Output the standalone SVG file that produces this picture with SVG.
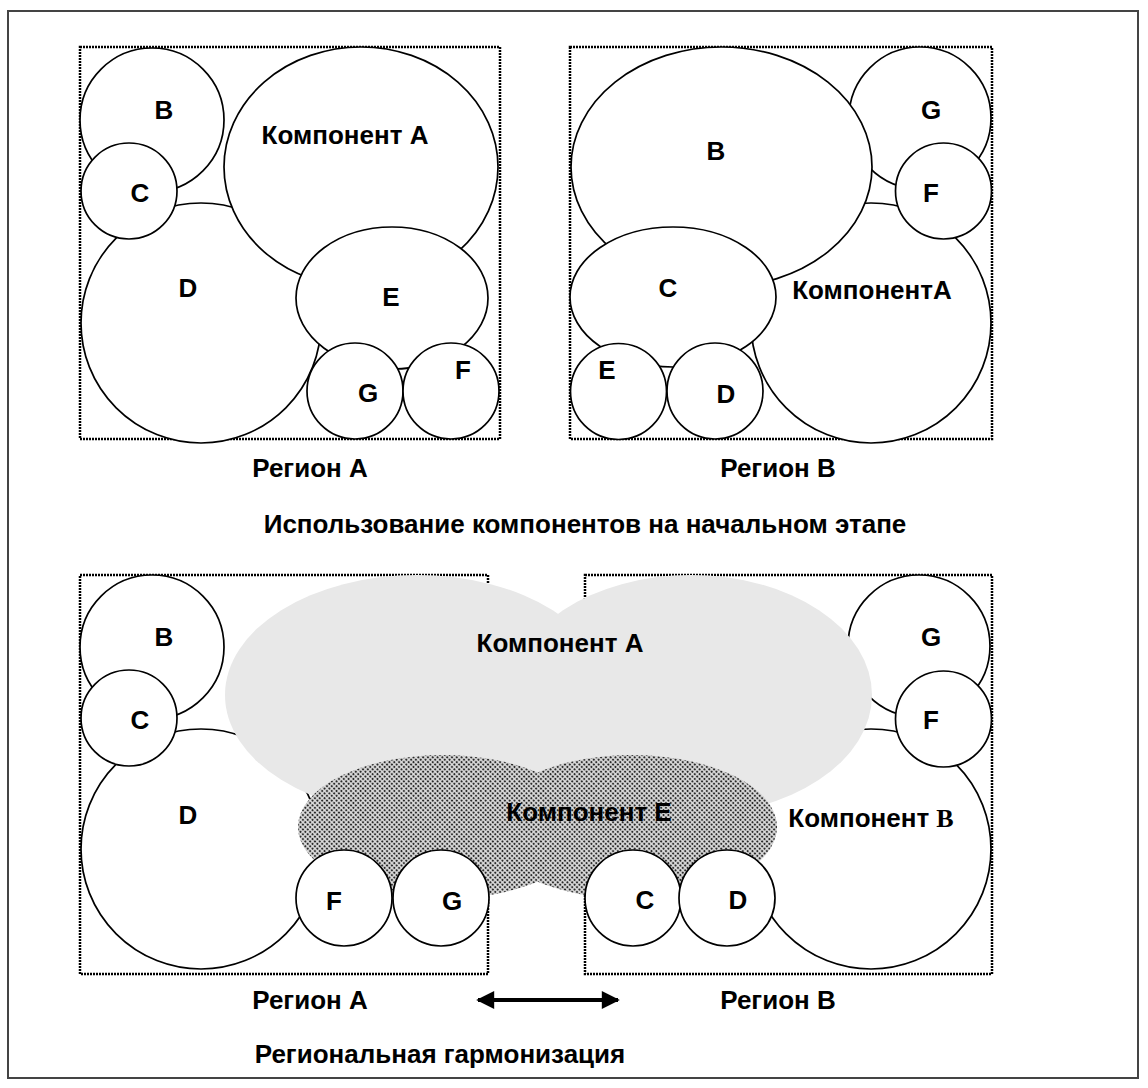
<svg xmlns="http://www.w3.org/2000/svg" width="1148" height="1088" viewBox="0 0 1148 1088">
<style>
.c{fill:#fff;stroke:#000;stroke-width:1.7}
.reg{fill:none;stroke:#000;stroke-width:2.5;stroke-dasharray:2 1}
.t{font-family:"Liberation Sans",Arial,sans-serif;font-weight:bold;font-size:26px;text-anchor:middle;fill:#000}
.gray{fill:#e8e8e8}
.hatch{fill:url(#dots)}
</style>
<defs>
<pattern id="dots" patternUnits="userSpaceOnUse" width="3.4" height="3.4" patternTransform="rotate(45)">
<rect width="3.4" height="3.4" fill="#dcdcdc"/>
<circle cx="1.7" cy="1.7" r="1.15" fill="#2a2a2a"/>
</pattern>
<marker id="ah" viewBox="0 0 10 10" refX="9" refY="5" markerWidth="5.5" markerHeight="4.5" orient="auto-start-reverse" markerUnits="strokeWidth">
<path d="M0,0 L10,5 L0,10 z" fill="#000"/>
</marker>
</defs>
<rect x="8" y="11" width="1130" height="1067" fill="#fff" stroke="#444" stroke-width="2"/>

<!-- Top-left: Region A -->
<g id="top-regionA">
<rect class="reg" x="80" y="47" width="420" height="392"/>
<g id="tA-B"><circle class="c" cx="152" cy="120" r="72"/></g>
<g id="tA-D"><circle class="c" cx="201" cy="323" r="120"/></g>
<g id="tA-C"><circle class="c" cx="129" cy="191" r="48"/></g>
<g id="tA-A"><ellipse class="c" cx="361" cy="167" rx="137" ry="120"/></g>
<g id="tA-E"><ellipse class="c" cx="392" cy="298" rx="96" ry="71"/></g>
<g id="tA-G"><circle class="c" cx="355" cy="391" r="48"/></g>
<g id="tA-F"><circle class="c" cx="451" cy="391" r="48"/></g>
<text class="t" x="164" y="119">B</text>
<text class="t" x="345" y="144">Компонент A</text>
<text class="t" x="140" y="202">C</text>
<text class="t" x="188" y="297">D</text>
<text class="t" x="391" y="306">E</text>
<text class="t" x="368" y="402">G</text>
<text class="t" x="463" y="379">F</text>
</g>

<!-- Top-right: Region B -->
<g id="top-regionB">
<rect class="reg" x="570" y="47" width="422" height="392"/>
<g id="tB-G"><circle class="c" cx="920" cy="118" r="71"/></g>
<g id="tB-A"><circle class="c" cx="871" cy="323" r="120"/></g>
<g id="tB-B"><ellipse class="c" cx="721.5" cy="167" rx="150.5" ry="120"/></g>
<g id="tB-F"><circle class="c" cx="943.5" cy="191" r="48"/></g>
<g id="tB-C"><ellipse class="c" cx="673" cy="297" rx="103" ry="70"/></g>
<g id="tB-E"><circle class="c" cx="618.5" cy="391.5" r="48"/></g>
<g id="tB-D"><circle class="c" cx="715" cy="391" r="48"/></g>
<text class="t" x="931" y="119">G</text>
<text class="t" x="716" y="160">B</text>
<text class="t" x="931" y="202">F</text>
<text class="t" x="668" y="297">C</text>
<text class="t" x="872" y="299">КомпонентA</text>
<text class="t" x="607" y="379">E</text>
<text class="t" x="726" y="403">D</text>
</g>

<text class="t" x="310" y="477">Регион А</text>
<text class="t" x="778" y="477">Регион B</text>
<text class="t" x="585" y="533">Использование компонентов на начальном этапе</text>

<!-- Bottom: harmonized -->
<g id="bot-regions">
<rect class="reg" x="80" y="575" width="408" height="399"/>
<rect class="reg" x="585" y="575" width="407" height="399"/>
</g>
<g id="bA-B"><circle class="c" cx="152" cy="647" r="72"/></g>
<g id="bA-D"><circle class="c" cx="201" cy="849" r="120"/></g>
<g id="bA-C"><circle class="c" cx="129" cy="718" r="48"/></g>
<g id="bB-G"><circle class="c" cx="919" cy="646" r="71"/></g>
<g id="bB-B"><circle class="c" cx="871" cy="849" r="120"/></g>
<g id="bB-F"><circle class="c" cx="943.5" cy="719" r="48"/></g>
<g id="b-A">
<ellipse class="gray" cx="417" cy="695" rx="192" ry="120"/>
<ellipse class="gray" cx="691" cy="695" rx="181" ry="120"/>
</g>
<g id="b-E">
<ellipse class="hatch" cx="443" cy="827" rx="145" ry="72"/>
<ellipse class="hatch" cx="632" cy="827" rx="145" ry="72"/>
</g>
<g id="bA-F"><circle class="c" cx="344" cy="898" r="48"/></g>
<g id="bA-G"><circle class="c" cx="441" cy="898" r="48"/></g>
<g id="bB-C"><circle class="c" cx="633" cy="898" r="48"/></g>
<g id="bB-D"><circle class="c" cx="727" cy="898" r="48"/></g>
<text class="t" x="164" y="646">B</text>
<text class="t" x="140" y="729">C</text>
<text class="t" x="188" y="824">D</text>
<text class="t" x="560" y="652">Компонент A</text>
<text class="t" x="589" y="821">Компонент E</text>
<text class="t" x="871" y="827">Компонент <tspan style="font-family:'Liberation Serif','Times New Roman',serif">B</tspan></text>
<text class="t" x="931" y="646">G</text>
<text class="t" x="931" y="729">F</text>
<text class="t" x="334" y="910">F</text>
<text class="t" x="452" y="910">G</text>
<text class="t" x="645" y="909">C</text>
<text class="t" x="738" y="909">D</text>

<text class="t" x="310" y="1009">Регион А</text>
<text class="t" x="778" y="1009">Регион B</text>
<g id="connectors">
<line x1="478" y1="1000" x2="618" y2="1000" stroke="#000" stroke-width="4" marker-start="url(#ah)" marker-end="url(#ah)"/>
</g>
<text class="t" x="440" y="1063">Региональная гармонизация</text>
</svg>
